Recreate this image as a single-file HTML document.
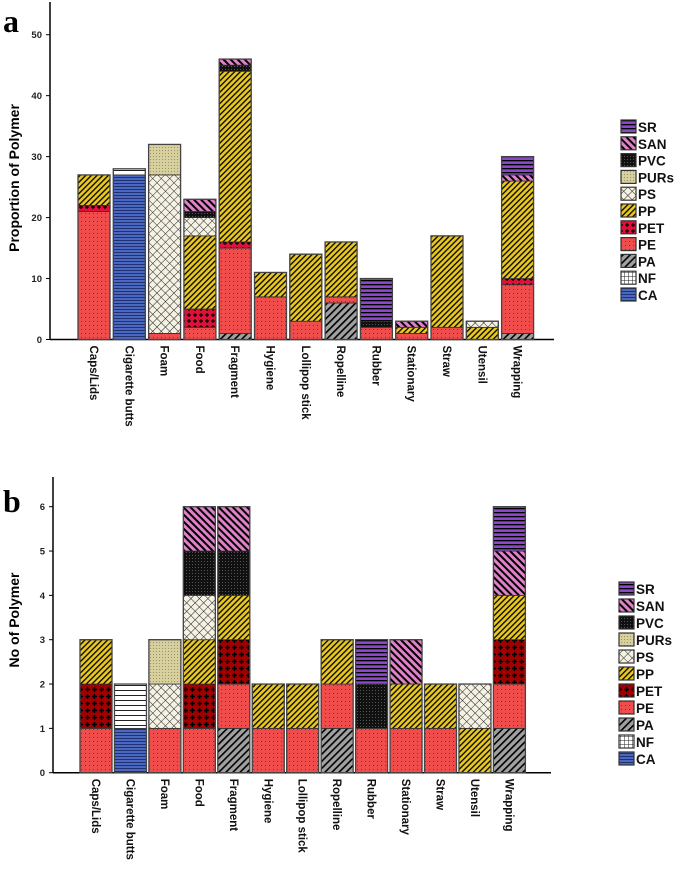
<!DOCTYPE html>
<html><head><meta charset="utf-8">
<style>
html,body{margin:0;padding:0;background:#fff;}
svg{display:block;font-family:"Liberation Sans",sans-serif;}
</style></head>
<body>
<svg id="chart" width="685" height="877" viewBox="0 0 685 877" xmlns="http://www.w3.org/2000/svg">
<defs>
<pattern id="pPE" width="4" height="4" patternUnits="userSpaceOnUse"><rect width="4" height="4" fill="#f04c4c"/><rect x="1" y="1" width="1" height="1" fill="#a02020"/></pattern>
<pattern id="pPETa" width="6" height="6" patternUnits="userSpaceOnUse"><rect width="6" height="6" fill="#e0103a"/><path d="M3 1V5M1 3H5" stroke="#000" stroke-width="1.2"/></pattern>
<pattern id="pPETb" width="7" height="7" patternUnits="userSpaceOnUse"><rect width="7" height="7" fill="#a00000"/><path d="M3.5 1V6M1 3.5H6" stroke="#000" stroke-width="1.5"/></pattern>
<pattern id="pPP" width="4" height="4" patternUnits="userSpaceOnUse" patternTransform="rotate(45)"><rect width="4" height="4" fill="#e8c820"/><rect width="1.3" height="4" fill="#000"/></pattern>
<pattern id="pPS" width="6" height="6" patternUnits="userSpaceOnUse" patternTransform="rotate(45)"><rect width="6" height="6" fill="#f5f2e4"/><path d="M0 0H6M0 0V6" stroke="#222" stroke-width="1"/></pattern>
<pattern id="pPUR" width="3" height="3" patternUnits="userSpaceOnUse"><rect width="3" height="3" fill="#d8d09c"/><rect width="1" height="1" fill="#9a9270"/></pattern>
<pattern id="pPVC" width="3" height="3" patternUnits="userSpaceOnUse"><rect width="3" height="3" fill="#111"/><rect width="1" height="1" fill="#555"/></pattern>
<pattern id="pSAN" width="5" height="5" patternUnits="userSpaceOnUse" patternTransform="rotate(-45)"><rect width="5" height="5" fill="#e080c8"/><rect width="2" height="5" fill="#000"/></pattern>
<pattern id="pSR" width="4" height="4" patternUnits="userSpaceOnUse"><rect width="4" height="4" fill="#8a48c8"/><rect width="4" height="1.3" fill="#000"/></pattern>
<pattern id="pPA" width="5" height="5" patternUnits="userSpaceOnUse" patternTransform="rotate(45)"><rect width="5" height="5" fill="#a0a0a0"/><rect width="1.6" height="5" fill="#000"/></pattern>
<pattern id="pNF" width="4" height="5" patternUnits="userSpaceOnUse"><rect width="4" height="5" fill="#fff"/><rect width="4" height="1" fill="#222"/></pattern>
<pattern id="pNFleg" width="4" height="4" patternUnits="userSpaceOnUse"><rect width="4" height="4" fill="#fff"/><path d="M0 0H4M0 0V4" stroke="#222" stroke-width="1"/></pattern>
<pattern id="pCA" width="3" height="3" patternUnits="userSpaceOnUse"><rect width="3" height="3" fill="#4a68c0"/><rect width="3" height="1" fill="#203070"/></pattern>
</defs>
<text x="3" y="32" font-family="Liberation Serif,serif" font-weight="bold" font-size="32">a</text>
<text x="3" y="512" font-family="Liberation Serif,serif" font-weight="bold" font-size="32">b</text>
</svg>
<script>
const categories = ["Caps/Lids","Cigarette butts","Foam","Food","Fragment","Hygiene","Lollipop stick","Ropelline","Rubber","Stationary","Straw","Utensil","Wrapping"];
const polymers = ["CA","NF","PA","PE","PET","PP","PS","PURs","PVC","SAN","SR"];
// Panel a: proportion per polymer for each category (order of polymers)
const propCA   = [0,27,0,0,0,0,0,0,0,0,0,0,0];
const propNF   = [0,1,0,0,0,0,0,0,0,0,0,0,0];
const propPA   = [0,0,0,0,1,0,0,6,0,0,0,0,1];
const propPE   = [21,0,1,2,14,7,3,1,2,1,2,0,8];
const propPET  = [1,0,0,3,1,0,0,0,0,0,0,0,1];
const propPP   = [5,0,0,12,28,4,11,9,0,1,15,2,16];
const propPS   = [0,0,26,3,0,0,0,0,0,0,0,1,0];
const propPURs = [0,0,5,0,0,0,0,0,0,0,0,0,0];
const propPVC  = [0,0,0,1,1,0,0,0,1,0,0,0,0];
const propSAN  = [0,0,0,2,1,0,0,0,0,1,0,0,1];
const propSR   = [0,0,0,0,0,0,0,0,7,0,0,0,3];
// Panel b: number of polymers
const numCA   = [0,1,0,0,0,0,0,0,0,0,0,0,0];
const numNF   = [0,1,0,0,0,0,0,0,0,0,0,0,0];
const numPA   = [0,0,0,0,1,0,0,1,0,0,0,0,1];
const numPE   = [1,0,1,1,1,1,1,1,1,1,1,0,1];
const numPET  = [1,0,0,1,1,0,0,0,0,0,0,0,1];
const numPP   = [1,0,0,1,1,1,1,1,0,1,1,1,1];
const numPS   = [0,0,1,1,0,0,0,0,0,0,0,1,0];
const numPURs = [0,0,1,0,0,0,0,0,0,0,0,0,0];
const numPVC  = [0,0,0,1,1,0,0,0,1,0,0,0,0];
const numSAN  = [0,0,0,1,1,0,0,0,0,1,0,0,1];
const numSR   = [0,0,0,0,0,0,0,0,1,0,0,0,1];
const ticksA = [0,10,20,30,40,50];
const ticksB = [0,1,2,3,4,5,6];

const NS = "http://www.w3.org/2000/svg";
const svg = document.getElementById("chart");
function mk(tag, attrs, parent){const e=document.createElementNS(NS,tag);for(const k in attrs)e.setAttribute(k,attrs[k]);(parent||svg).appendChild(e);return e;}

function drawPanel(cfg){
  const g = mk("g",{});
  
  
  const y = v => cfg.y0 - (v - 0) * (cfg.y0 - cfg.yTop) / (cfg.vTop);
  const x = i => cfg.x0 + i * cfg.step;
  // axes
  const ya = mk("line",{x1:cfg.ax,y1:cfg.axTop,x2:cfg.ax,y2:cfg.y0,stroke:"#000","stroke-width":1.5},g);
  
  
  const xa = mk("line",{x1:cfg.ax,y1:cfg.y0,x2:cfg.axEnd,y2:cfg.y0,stroke:"#000","stroke-width":1.5},g);
  
  
  cfg.ticks.forEach(t=>{
    mk("line",{x1:cfg.ax-4,y1:y(t),x2:cfg.ax,y2:y(t),stroke:"#000","stroke-width":1},g);
    const tl = mk("text",{x:cfg.ax-8,y:y(t)+3.5,"text-anchor":"end","font-size":9.5,"font-weight":"bold",fill:"#222"},g);
    tl.textContent = t;
    
    
  });
  const yt = mk("text",{x:0,y:0,"text-anchor":"middle","font-size":14,"font-weight":"bold",transform:`translate(${cfg.ytX},${cfg.ytY}) rotate(-90)`},g);
  yt.textContent = cfg.ytitle;
  
  
  categories.forEach((c,i)=>{
    let acc = 0;
    cfg.series.forEach((s,k)=>{
      const v = s[i];
      if(!v) return;
      const r = mk("rect",{x:x(i),y:y(acc+v),width:cfg.bw,height:y(acc)-y(acc+v),fill:`url(#${cfg.fills[k]})`,stroke:"#333","stroke-width":0.8},g);
      
      
      acc += v;
    });
    const o = mk("rect",{x:x(i),y:y(acc),width:cfg.bw,height:y(0)-y(acc),fill:"none",stroke:"#444","stroke-width":1.3},g);
    
    
    const cx = x(i)+cfg.bw/2 - 4;
    const lb = mk("text",{x:0,y:0,"font-size":11.5,"font-weight":"bold",fill:"#111",transform:`translate(${cx},${cfg.y0+6}) rotate(90)`},g);
    lb.textContent = c;
    
    
  });
  // legend
  const order = ["SR","SAN","PVC","PURs","PS","PP","PET","PE","PA","NF","CA"];
  order.forEach((p,j)=>{
    const k = polymers.indexOf(p);
    const ly = cfg.legY + j*cfg.legStep;
    const fill = p==="NF" ? "pNFleg" : cfg.fills[k];
    const sw = mk("rect",{x:cfg.legX,y:ly,width:15,height:13,fill:`url(#${fill})`,stroke:"#333","stroke-width":1.2},g);
    
    
    const lt = mk("text",{x:cfg.legX+17,y:ly+12,"font-size":13.5,"font-weight":"bold",fill:"#111"},g);
    lt.textContent = p;
    
    
  });
}
drawPanel({name:"panel-a-chart",y0:339.5,yTop:34.7,vTop:50,x0:78,step:35.3,bw:32,ax:50,axTop:2,axEnd:554,
  ticks:ticksA,ytitle:"Proportion of Polymer",ytX:19,ytY:178,
  series:[propCA,propNF,propPA,propPE,propPET,propPP,propPS,propPURs,propPVC,propSAN,propSR],
  fills:["pCA","pNF","pPA","pPE","pPETa","pPP","pPS","pPUR","pPVC","pSAN","pSR"],
  legX:621,legY:120,legStep:16.8});
drawPanel({name:"panel-b-chart",y0:772.7,yTop:506.7,vTop:6,x0:80,step:34.45,bw:32,ax:53,axTop:477,axEnd:551,
  ticks:ticksB,ytitle:"No of Polymer",ytX:19,ytY:620,
  series:[numCA,numNF,numPA,numPE,numPET,numPP,numPS,numPURs,numPVC,numSAN,numSR],
  fills:["pCA","pNF","pPA","pPE","pPETb","pPP","pPS","pPUR","pPVC","pSAN","pSR"],
  legX:619,legY:582,legStep:17});
</script>
</body></html>
